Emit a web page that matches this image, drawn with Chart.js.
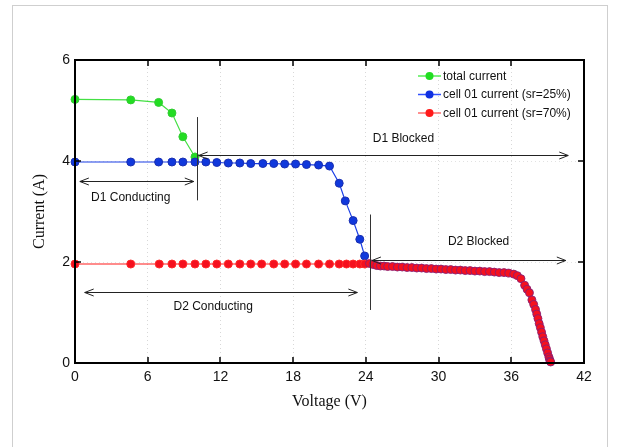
<!DOCTYPE html>
<html>
<head>
<meta charset="utf-8">
<script src="https://cdn.jsdelivr.net/npm/chart.js@4.4.1/dist/chart.umd.min.js"></script>
<style>
    html, body { margin: 0; padding: 0; background: #fff; }
    #wrap { position: relative; width: 622px; height: 447px; overflow: hidden; }
    #frame {
        position: absolute; left: 12px; top: 5px; width: 596px; height: 460px;
        border: 1px solid #cfcfcf; box-sizing: border-box;
    }
    #ivChart { position: absolute; left: 0; top: 0; }
</style>
</head>
<body>
<div id="wrap">
    <div id="frame"></div>
    <canvas id="ivChart" width="622" height="447"></canvas>
</div>
<script>
// total current
const totalVoltage = [0, 4.6, 6.9, 8.0, 8.9, 9.9];
const totalCurrent = [5.22, 5.21, 5.16, 4.95, 4.48, 4.08];

// cell 01, sr = 25%
const cell25Voltage = [0, 4.6, 6.9, 8.0, 8.9, 9.9, 10.8, 11.7, 12.65, 13.6, 14.5, 15.5,
    16.4, 17.3, 18.2, 19.1, 20.1, 21.0, 21.8, 22.3, 22.95, 23.5, 23.9];
const cell25Current = [3.98, 3.98, 3.98, 3.98, 3.98, 3.98, 3.98, 3.97, 3.96, 3.96, 3.95, 3.95,
    3.95, 3.94, 3.94, 3.93, 3.92, 3.90, 3.56, 3.21, 2.82, 2.45, 2.12];

// cell 01, sr = 70%
const cell70Voltage = [0, 4.6, 6.95, 8.0, 8.9, 9.9, 10.8, 11.7, 12.65, 13.6, 14.5, 15.4,
    16.4, 17.3, 18.2, 19.1, 20.1, 21.0, 21.8, 22.4, 22.95, 23.5, 23.9,
    24.3, 24.6, 24.9, 25.2, 25.5, 25.8, 26.2, 26.6, 27.0, 27.4, 27.8, 28.2, 28.6, 29.0,
    29.4, 29.8, 30.2, 30.6, 31.0, 31.4, 31.8, 32.2, 32.6, 33.0, 33.4, 33.8, 34.2, 34.6,
    35.0, 35.4, 35.8, 36.2, 36.5, 36.8, 37.1, 37.3, 37.5, 37.7, 37.85, 38.0, 38.1, 38.2,
    38.3, 38.4, 38.5, 38.6, 38.7, 38.8, 38.9, 39.0, 39.1, 39.15, 39.2, 39.25];
const cell70Current = [1.96, 1.96, 1.96, 1.96, 1.96, 1.96, 1.96, 1.96, 1.96, 1.96, 1.96, 1.96,
    1.96, 1.96, 1.96, 1.96, 1.96, 1.96, 1.96, 1.96, 1.96, 1.96, 1.96,
    1.97, 1.95, 1.93, 1.92, 1.92, 1.91, 1.91, 1.90, 1.90, 1.89, 1.89, 1.88, 1.88, 1.87,
    1.87, 1.86, 1.86, 1.85, 1.85, 1.84, 1.84, 1.83, 1.83, 1.82, 1.82, 1.81, 1.81, 1.80,
    1.79, 1.79, 1.78, 1.76, 1.73, 1.67, 1.54, 1.46, 1.39, 1.25, 1.16, 1.06, 0.97, 0.88,
    0.78, 0.70, 0.61, 0.52, 0.44, 0.36, 0.28, 0.20, 0.12, 0.08, 0.04, 0.02];

const xTicks = [0, 6, 12, 18, 24, 30, 36, 42];
const yTicks = [0, 2, 4, 6];

const seriesNames = ["total current", "cell 01 current (sr=25%)", "cell 01 current (sr=70%)"];

function toPoints(xs, ys) {
    return xs.map((x, i) => ({ x: x, y: ys[i] }));
}

const sansFont = "'Liberation Sans', Arial, sans-serif";
const serifFont = "'Liberation Serif', 'Times New Roman', serif";

// arrows, region labels and divider lines (in data units)
const annotations = {
    dividers: [
        { x: 10.1, y1: 4.87, y2: 3.22 },
        { x: 24.35, y1: 2.94, y2: 1.05 },
    ],
    arrows: [
        { x1: 10.2, x2: 40.7, y: 4.12, label: "D1 Blocked", lx: 27.1, ly: 4.44 },
        { x1: 0.4, x2: 9.8, y: 3.60, label: "D1 Conducting", lx: 4.6, ly: 3.27 },
        { x1: 24.5, x2: 40.5, y: 2.04, label: "D2 Blocked", lx: 33.3, ly: 2.40 },
        { x1: 0.8, x2: 23.3, y: 1.41, label: "D2 Conducting", lx: 11.4, ly: 1.11 },
    ],
};

function drawArrowHead(ctx, x, y, dir) {
    ctx.beginPath();
    ctx.moveTo(x + dir * 9, y - 3.5);
    ctx.lineTo(x, y);
    ctx.lineTo(x + dir * 9, y + 3.5);
    ctx.stroke();
}

const decorPlugin = {
    id: "decor",
    afterDraw(chart) {
        const ctx = chart.ctx;
        const xs = chart.scales.x;
        const ys = chart.scales.y;
        const area = chart.chartArea;

        ctx.save();

        // frame
        ctx.strokeStyle = "#000";
        ctx.lineWidth = 2;
        ctx.strokeRect(area.left, area.top, area.right - area.left, area.bottom - area.top);

        // inward ticks on all four sides
        ctx.lineWidth = 1.5;
        ctx.beginPath();
        xTicks.forEach((v) => {
            const px = Math.round(xs.getPixelForValue(v));
            ctx.moveTo(px, area.bottom);
            ctx.lineTo(px, area.bottom - 6);
            ctx.moveTo(px, area.top);
            ctx.lineTo(px, area.top + 6);
        });
        yTicks.forEach((v) => {
            const py = Math.round(ys.getPixelForValue(v));
            ctx.moveTo(area.left, py);
            ctx.lineTo(area.left + 6, py);
            ctx.moveTo(area.right, py);
            ctx.lineTo(area.right - 6, py);
        });
        ctx.stroke();

        // divider lines
        ctx.strokeStyle = "#333";
        ctx.lineWidth = 1;
        annotations.dividers.forEach((d) => {
            const px = Math.round(xs.getPixelForValue(d.x)) + 0.5;
            ctx.beginPath();
            ctx.moveTo(px, ys.getPixelForValue(d.y1));
            ctx.lineTo(px, ys.getPixelForValue(d.y2));
            ctx.stroke();
        });

        // double-headed arrows with labels
        ctx.font = "12px " + sansFont;
        ctx.fillStyle = "#111";
        ctx.textAlign = "center";
        ctx.textBaseline = "middle";
        annotations.arrows.forEach((a) => {
            const x1 = xs.getPixelForValue(a.x1);
            const x2 = xs.getPixelForValue(a.x2);
            const py = Math.round(ys.getPixelForValue(a.y)) + 0.5;
            ctx.strokeStyle = "#222";
            ctx.beginPath();
            ctx.moveTo(x1, py);
            ctx.lineTo(x2, py);
            ctx.stroke();
            drawArrowHead(ctx, x1, py, 1);
            drawArrowHead(ctx, x2, py, -1);
            ctx.fillText(a.label, xs.getPixelForValue(a.lx), ys.getPixelForValue(a.ly));
        });

        // legend
        const legendColors = [
            { line: "#55ee55", dot: "#22dd22" },
            { line: "#3050ff", dot: "#1030e0" },
            { line: "#ff6a6a", dot: "#ff1a1a" },
        ];
        ctx.textAlign = "left";
        seriesNames.forEach((name, i) => {
            const ly = 76 + i * 18.5;
            ctx.strokeStyle = legendColors[i].line;
            ctx.lineWidth = 1.5;
            ctx.beginPath();
            ctx.moveTo(418, ly);
            ctx.lineTo(441, ly);
            ctx.stroke();
            ctx.fillStyle = legendColors[i].dot;
            ctx.beginPath();
            ctx.arc(429.5, ly, 4, 0, Math.PI * 2);
            ctx.fill();
            ctx.fillStyle = "#111";
            ctx.fillText(name, 443, ly + 0.5);
        });

        ctx.restore();
    },
};

const ctx = document.getElementById("ivChart").getContext("2d");

new Chart(ctx, {
    type: "line",
    data: {
        datasets: [
            {
                label: seriesNames[0],
                data: toPoints(totalVoltage, totalCurrent),
                borderColor: "#44e044",
                backgroundColor: "#22dd22",
                pointBorderColor: "#33cc33",
                borderWidth: 1.2,
                pointRadius: 4,
                pointBorderWidth: 1,
                order: 2,
                clip: false,
            },
            {
                label: seriesNames[1],
                data: toPoints(cell25Voltage, cell25Current),
                borderColor: "#1a3ee6",
                backgroundColor: "#1038dc",
                pointBorderColor: "#1a2fb0",
                borderWidth: 1.2,
                pointRadius: 4,
                pointBorderWidth: 1,
                order: 1,
                clip: false,
            },
            {
                label: seriesNames[2],
                data: toPoints(cell70Voltage, cell70Current),
                borderColor: "#ff1a1a",
                backgroundColor: "#f5101e",
                // the densely sampled part of the curve has purple-edged markers
                pointBorderColor: (c) => (c.raw && c.raw.x > 24.2 ? "rgba(130, 30, 120, 0.85)" : "#ff2a2a"),
                borderWidth: 1.2,
                pointRadius: 4,
                pointBorderWidth: 1,
                order: 0,
                clip: false,
            },
        ],
    },
    options: {
        responsive: false,
        animation: false,
        events: [],
        layout: {
            padding: { top: 60, right: 38, bottom: 0, left: 0 },
        },
        plugins: {
            legend: { display: false },
            tooltip: { enabled: false },
        },
        scales: {
            x: {
                type: "linear",
                min: 0,
                max: 42,
                afterFit(scale) {
                    scale.height = 84;
                },
                afterBuildTicks(scale) {
                    scale.ticks = xTicks.map((v) => ({ value: v }));
                },
                border: { display: false, dash: [1, 3] },
                grid: {
                    color: "#d8d8d8",
                    lineWidth: 1,
                    drawTicks: false,
                },
                ticks: {
                    color: "#111",
                    padding: 6,
                    maxRotation: 0,
                    font: { family: sansFont, size: 14 },
                },
                title: {
                    display: true,
                    text: "Voltage (V)",
                    color: "#111",
                    font: { family: serifFont, size: 16 },
                    padding: { top: 0, bottom: 36 },
                },
            },
            y: {
                type: "linear",
                min: 0,
                max: 6,
                afterFit(scale) {
                    scale.width = 75;
                },
                afterBuildTicks(scale) {
                    scale.ticks = yTicks.map((v) => ({ value: v }));
                },
                border: { display: false, dash: [1, 3] },
                grid: {
                    color: "#e2e2e2",
                    lineWidth: 1,
                    drawTicks: false,
                },
                ticks: {
                    color: "#111",
                    padding: 5,
                    font: { family: sansFont, size: 14 },
                },
                title: {
                    display: true,
                    text: "Current (A)",
                    color: "#111",
                    font: { family: serifFont, size: 16 },
                    padding: { top: 30, bottom: 0 },
                },
            },
        },
    },
    plugins: [decorPlugin],
});
</script>
</body>
</html>
